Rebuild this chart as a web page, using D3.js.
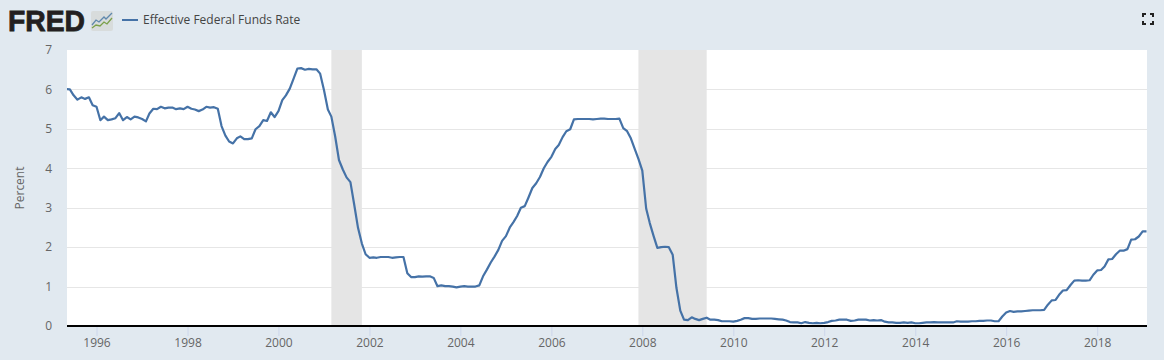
<!DOCTYPE html>
<html>
<head>
<meta charset="utf-8">
<title>Effective Federal Funds Rate</title>
<script src="https://cdn.jsdelivr.net/npm/d3@7"></script>
<style>
  html, body { margin: 0; padding: 0; background: #e1e9f0; }
  svg { display: block; }
  text { font-family: "Open Sans", sans-serif; fill: #666; }
</style>
</head>
<body>
<div id="chart"></div>
<script>
// Monthly values, May 1995 to Feb 2019
var rate1995 = [6.01, 6.00, 5.85, 5.74, 5.80, 5.76, 5.80, 5.60];
var rate1996 = [5.56, 5.22, 5.31, 5.22, 5.24, 5.27, 5.40, 5.22, 5.30, 5.24, 5.31, 5.29];
var rate1997 = [5.25, 5.19, 5.39, 5.51, 5.50, 5.56, 5.52, 5.54, 5.54, 5.50, 5.52, 5.50];
var rate1998 = [5.56, 5.51, 5.49, 5.45, 5.49, 5.56, 5.54, 5.55, 5.51, 5.07, 4.83, 4.68];
var rate1999 = [4.63, 4.76, 4.81, 4.74, 4.74, 4.76, 4.99, 5.07, 5.22, 5.20, 5.42, 5.30];
var rate2000 = [5.45, 5.73, 5.85, 6.02, 6.27, 6.53, 6.54, 6.50, 6.52, 6.51, 6.51, 6.40];
var rate2001 = [5.98, 5.49, 5.31, 4.80, 4.21, 3.97, 3.77, 3.65, 3.07, 2.49, 2.09, 1.82];
var rate2002 = [1.73, 1.74, 1.73, 1.75, 1.75, 1.75, 1.73, 1.74, 1.75, 1.75, 1.34, 1.24];
var rate2003 = [1.24, 1.26, 1.25, 1.26, 1.26, 1.22, 1.01, 1.03, 1.01, 1.01, 1.00, 0.98];
var rate2004 = [1.00, 1.01, 1.00, 1.00, 1.00, 1.03, 1.26, 1.43, 1.61, 1.76, 1.93, 2.16];
var rate2005 = [2.28, 2.50, 2.63, 2.79, 3.00, 3.04, 3.26, 3.50, 3.62, 3.78, 4.00, 4.16];
var rate2006 = [4.29, 4.49, 4.59, 4.79, 4.94, 4.99, 5.24, 5.25, 5.25, 5.25, 5.25, 5.24];
var rate2007 = [5.25, 5.26, 5.26, 5.25, 5.25, 5.25, 5.26, 5.02, 4.94, 4.76, 4.49, 4.24];
var rate2008 = [3.94, 2.98, 2.61, 2.28, 1.98, 2.00, 2.01, 2.00, 1.81, 0.97, 0.39, 0.16];
var rate2009 = [0.15, 0.22, 0.18, 0.15, 0.18, 0.21, 0.16, 0.16, 0.15, 0.12, 0.12, 0.12];
var rate2010 = [0.11, 0.13, 0.16, 0.20, 0.20, 0.18, 0.18, 0.19, 0.19, 0.19, 0.19, 0.18];
var rate2011 = [0.17, 0.16, 0.14, 0.10, 0.09, 0.09, 0.07, 0.10, 0.08, 0.07, 0.08, 0.07];
var rate2012 = [0.08, 0.10, 0.13, 0.14, 0.16, 0.16, 0.16, 0.13, 0.14, 0.16, 0.16, 0.16];
var rate2013 = [0.14, 0.15, 0.14, 0.15, 0.11, 0.09, 0.09, 0.08, 0.08, 0.09, 0.08, 0.09];
var rate2014 = [0.07, 0.07, 0.08, 0.09, 0.09, 0.10, 0.09, 0.09, 0.09, 0.09, 0.09, 0.12];
var rate2015 = [0.11, 0.11, 0.11, 0.12, 0.12, 0.13, 0.13, 0.14, 0.14, 0.12, 0.12, 0.24];
var rate2016 = [0.34, 0.38, 0.36, 0.37, 0.37, 0.38, 0.39, 0.40, 0.40, 0.40, 0.41, 0.54];
var rate2017 = [0.65, 0.66, 0.79, 0.90, 0.91, 1.04, 1.15, 1.16, 1.15, 1.15, 1.16, 1.30];
var rate2018 = [1.41, 1.42, 1.51, 1.69, 1.70, 1.82, 1.91, 1.91, 1.95, 2.19, 2.20, 2.27];
var rate2019 = [2.40, 2.40];

var recessions = [
  ["2001-03-01", "2001-11-01"],
  ["2007-12-01", "2009-06-01"]
];
var yearTicks = [1996, 1998, 2000, 2002, 2004, 2006, 2008, 2010, 2012, 2014, 2016, 2018];
var percentTicks = [0, 1, 2, 3, 4, 5, 6, 7];
var seriesName = "Effective Federal Funds Rate";
var yAxisLabel = "Percent";

var W = 1164, H = 360;
var plot = { left: 67, right: 1147, top: 50, bottom: 326 };

var rates = [].concat(
  rate1995, rate1996, rate1997, rate1998, rate1999, rate2000, rate2001, rate2002, rate2003,
  rate2004, rate2005, rate2006, rate2007, rate2008, rate2009, rate2010, rate2011, rate2012,
  rate2013, rate2014, rate2015, rate2016, rate2017, rate2018, rate2019
);
var start = new Date(Date.UTC(1995, 4, 1));
var data = rates.map(function (v, i) {
  return { date: d3.utcMonth.offset(start, i), value: v };
});

var parseDay = d3.utcParse("%Y-%m-%d");

var svg = d3.select("#chart").append("svg").attr("width", W).attr("height", H);

// Scales
var xScale = d3.scaleUtc()
  .domain(d3.extent(data, function (d) { return d.date; }))
  .range([plot.left - 1, plot.right - 0.5]);
var yScale = d3.scaleLinear().domain([0, 7]).range([plot.bottom, plot.top]);

// Clip to the plot so the line starts at its left edge
svg.append("defs").append("clipPath").attr("id", "plot-clip")
  .append("rect")
  .attr("x", plot.left).attr("y", plot.top)
  .attr("width", plot.right - plot.left).attr("height", plot.bottom - plot.top);

// Plot background
svg.append("rect")
  .attr("x", plot.left).attr("y", plot.top)
  .attr("width", plot.right - plot.left).attr("height", plot.bottom - plot.top)
  .attr("fill", "#fff");

// Grid
svg.append("g").selectAll("line")
  .data(percentTicks.filter(function (d) { return d > 0 && d < 7; }))
  .join("line")
  .attr("x1", plot.left).attr("x2", plot.right)
  .attr("y1", function (d) { return Math.round(yScale(d)) + 0.5; })
  .attr("y2", function (d) { return Math.round(yScale(d)) + 0.5; })
  .attr("stroke", "#e6e6e6");

// Recession bands
svg.append("g").selectAll("rect")
  .data(recessions)
  .join("rect")
  .attr("x", function (d) { return xScale(parseDay(d[0])); })
  .attr("y", plot.top)
  .attr("width", function (d) { return xScale(parseDay(d[1])) - xScale(parseDay(d[0])); })
  .attr("height", plot.bottom - plot.top)
  .attr("fill", "#e5e5e5");

// Line
var lineGen = d3.line()
  .x(function (d) { return xScale(d.date); })
  .y(function (d) { return yScale(d.value); });

svg.append("path")
  .datum(data)
  .attr("clip-path", "url(#plot-clip)")
  .attr("fill", "none")
  .attr("stroke", "#4572a7")
  .attr("stroke-width", 2.2)
  .attr("stroke-linejoin", "round")
  .attr("d", lineGen);

// X axis
var xAxis = d3.axisBottom(xScale)
  .tickValues(yearTicks.map(function (y) { return new Date(Date.UTC(y, 0, 1)); }))
  .tickFormat(d3.utcFormat("%Y"))
  .tickSize(10)
  .tickPadding(2);
var gx = svg.append("g")
  .attr("transform", "translate(0," + plot.bottom + ")")
  .call(xAxis);
gx.select(".domain").remove();
gx.selectAll("line").attr("stroke", "#ccd6eb");
gx.selectAll("text").attr("font-size", 12).style("fill", "#666");

// Baseline at zero
svg.append("line")
  .attr("x1", plot.left).attr("x2", plot.right)
  .attr("y1", yScale(0)).attr("y2", yScale(0))
  .attr("stroke", "#000").attr("stroke-width", 2);

// Y axis
var yAxis = d3.axisLeft(yScale)
  .tickValues(percentTicks)
  .tickFormat(d3.format("d"))
  .tickSize(0)
  .tickPadding(15);
var gy = svg.append("g")
  .attr("transform", "translate(" + plot.left + ",0)")
  .call(yAxis);
gy.select(".domain").remove();
gy.selectAll("text").attr("font-size", 12).style("fill", "#666");

svg.append("text")
  .attr("transform", "translate(24," + (plot.top + plot.bottom) / 2 + ") rotate(-90)")
  .attr("text-anchor", "middle")
  .attr("font-size", 12)
  .text(yAxisLabel);

// Legend
svg.append("line")
  .attr("x1", 122).attr("x2", 138).attr("y1", 20).attr("y2", 20)
  .attr("stroke", "#4572a7").attr("stroke-width", 2);
svg.append("text")
  .attr("x", 143).attr("y", 24)
  .attr("font-size", 12)
  .style("fill", "#444")
  .text(seriesName);

// FRED logo
svg.append("text")
  .attr("x", 8).attr("y", 31)
  .attr("font-size", 29)
  .attr("font-weight", 700)
  .attr("textLength", 77)
  .attr("lengthAdjust", "spacingAndGlyphs")
  .style("font-family", "'Liberation Sans', sans-serif")
  .style("fill", "#231f20")
  .style("stroke", "#231f20")
  .style("stroke-width", 0.8)
  .text("FRED");

var logo = svg.append("g").attr("transform", "translate(91,11)");
logo.append("rect").attr("width", 22).attr("height", 20).attr("rx", 2).attr("fill", "#d8dcdc");
logo.append("path")
  .attr("d", "M1,14 L5,9 L8,11 L13,6 L15,8 L21,2")
  .attr("fill", "none").attr("stroke", "#5f88ad").attr("stroke-width", 1.3);
logo.append("path")
  .attr("d", "M1,17 L5,14 L9,15 L13,11 L16,13 L21,7")
  .attr("fill", "none").attr("stroke", "#7ba04a").attr("stroke-width", 1.3);

// Fullscreen icon
svg.append("path")
  .attr("d", "M1143,17 V14 H1146 M1150,14 H1153 V17 M1153,21 V24 H1150 M1146,24 H1143 V21")
  .attr("fill", "none").attr("stroke", "#222").attr("stroke-width", 2);
</script>
</body>
</html>
